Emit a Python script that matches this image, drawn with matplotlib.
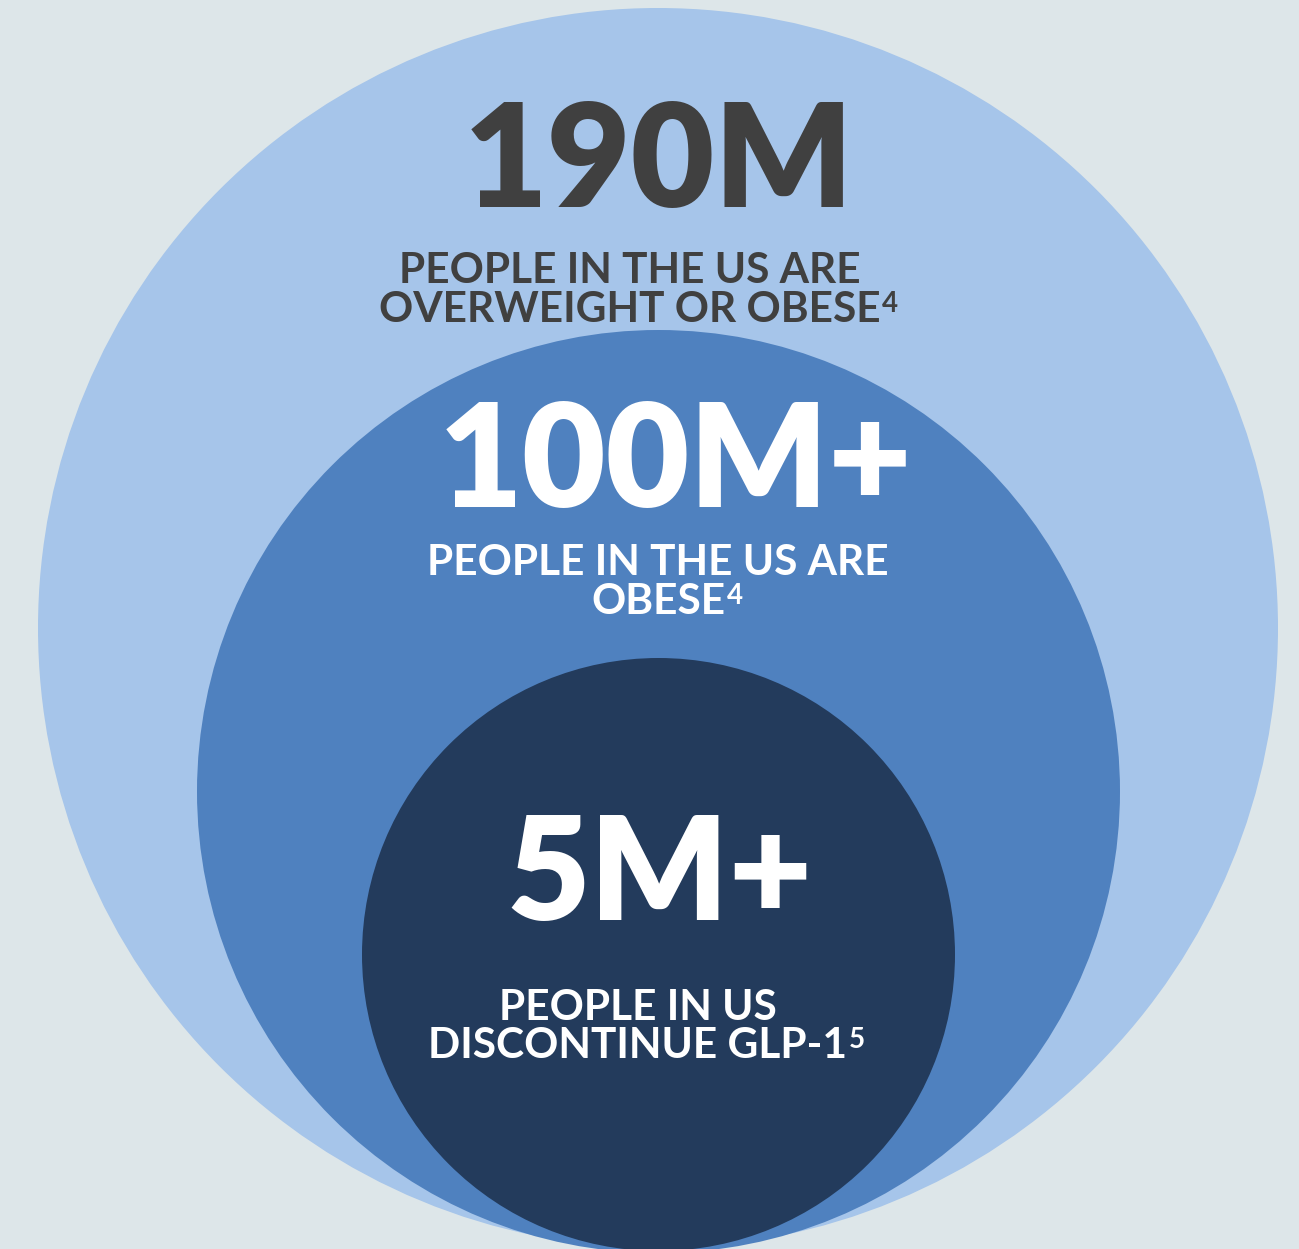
import matplotlib.pyplot as plt
from matplotlib.patches import Circle

# Nested population circles: outer -> inner
headlines = ["190M", "100M+", "5M+"]
captions = [
    ["PEOPLE IN THE US ARE", "OVERWEIGHT OR OBESE"],
    ["PEOPLE IN THE US ARE", "OBESE"],
    ["PEOPLE IN US", "DISCONTINUE GLP-1"],
]
footnotes = ["4", "4", "5"]

# layout in pixel units (y grows downward)
W, H = 1299, 1249
centers = [(658, 628), (658.5, 791.5), (658.5, 954.5)]
radii = [620, 461.5, 296.5]
fills = ["#a6c5ea", "#4f81bf", "#233b5c"]
text_colors = ["#404040", "white", "white"]
head_xy = [(659, 207), (676, 507), (660, 920)]
cap_x = [630, 658, 638]
cap_y = [(283, 322), (575, 614), (1020, 1058)]
sup_line = [1, 1, 1]

FONT = "Lato"

fig = plt.figure(figsize=(W / 100, H / 100), dpi=100)
fig.patch.set_facecolor("#dde6e9")
ax = fig.add_axes([0, 0, 1, 1])
ax.set_xlim(0, W)
ax.set_ylim(H, 0)
ax.set_aspect("equal")
ax.axis("off")

for i, (c, r) in enumerate(zip(centers, radii)):
    ax.add_patch(Circle(c, r, facecolor=fills[i], edgecolor="none", zorder=i + 1))

    ax.text(head_xy[i][0], head_xy[i][1], headlines[i], ha="center", va="baseline",
            fontsize=104, fontweight="heavy", family=FONT,
            color=text_colors[i], zorder=10)

    for j, line in enumerate(captions[i]):
        t = ax.text(cap_x[i], cap_y[i][j], line, ha="center", va="baseline",
                    fontsize=30.5, fontweight="bold", family=FONT,
                    color=text_colors[i], zorder=10)
        if j == sup_line[i]:
            ax.annotate(footnotes[i], xy=(1, 1), xycoords=t, xytext=(1, 0),
                        textcoords="offset points", ha="left", va="top",
                        fontsize=20, fontweight="bold", family=FONT,
                        color=text_colors[i], zorder=10)

fig.savefig("out.png", dpi=100, facecolor=fig.get_facecolor())
